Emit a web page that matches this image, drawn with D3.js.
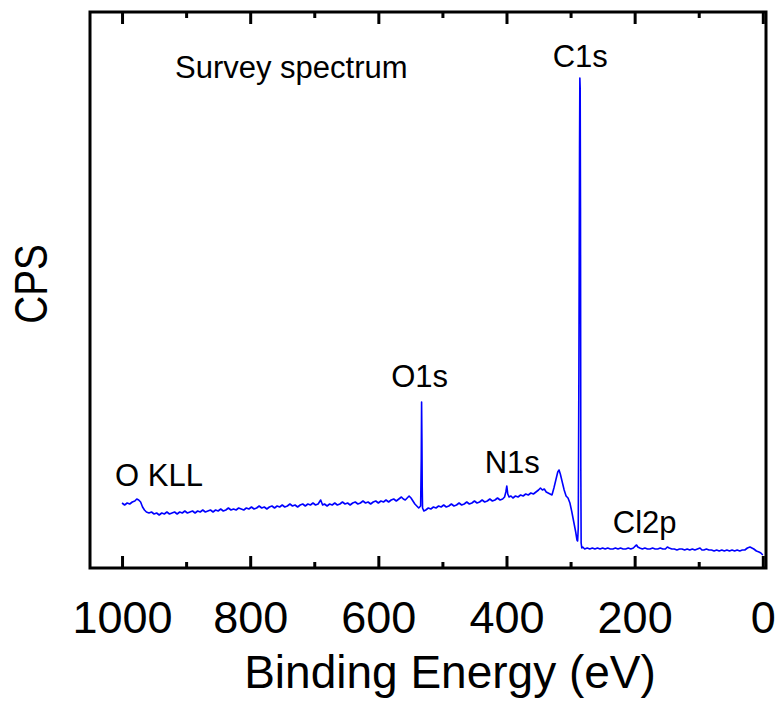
<!DOCTYPE html>
<html>
<head>
<meta charset="utf-8">
<script src="https://cdn.jsdelivr.net/npm/d3@7"></script>
<style>
	body { margin: 0; background: #fff; }
	text { font-family: "Liberation Sans", Arial, sans-serif; fill: #000; }
</style>
</head>
<body>
<div class="xps-survey"></div>
<script>

// binding energy (eV) and intensity (arbitrary CPS units)
const energy = [
	1000, 996, 992, 988, 984, 980, 977, 974, 971, 968, 965, 962, 958, 954, 950, 946, 942, 938, 934, 930,
	926, 922, 918, 914, 910, 906, 902, 898, 894, 890, 886, 882, 878, 874, 870, 866, 862, 858, 854, 850,
	846, 842, 838, 834, 830, 826, 822, 818, 814, 810, 806, 802, 798, 794, 790, 786, 782, 778, 774, 770,
	766, 762, 758, 754, 750, 746, 742, 738, 734, 730, 726, 722, 718, 714, 710, 706, 702, 698, 694, 690,
	687, 684, 680, 676, 672, 668, 664, 660, 656, 652, 648, 644, 640, 636, 632, 628, 624, 620, 616, 612,
	608, 604, 600, 596, 592, 588, 584, 580, 576, 572, 568, 564, 561, 558, 555, 552, 549, 546, 543, 540,
	537, 534, 533, 532.5, 532, 531.5, 531, 529, 526, 522, 518, 514, 510, 506, 502, 498, 494, 490, 486, 482,
	478, 474, 470, 466, 462, 458, 454, 450, 446, 442, 438, 434, 430, 426, 422, 418, 414, 410, 406, 403,
	401, 399.5, 398, 396, 393, 390, 386, 382, 378, 374, 370, 366, 362, 358, 354, 350, 347, 344, 341, 338,
	335, 332, 329, 326, 323, 320, 318, 316, 313, 310, 307, 304, 301, 298, 295, 292, 290, 289, 288, 287,
	286, 285.5, 285, 284.5, 284, 283.5, 282.5, 281, 278, 274, 270, 266, 262, 258, 254, 250, 246, 242, 238, 234,
	230, 226, 222, 218, 214, 210, 206, 202, 199, 197, 195, 192, 188, 184, 180, 176, 172, 168, 164, 160,
	156, 152, 149, 146, 142, 138, 134, 130, 126, 122, 118, 114, 110, 106, 102, 98, 95, 92, 88, 84,
	80, 76, 72, 68, 64, 60, 56, 52, 48, 44, 40, 36, 32, 28, 24, 20, 17, 14, 10, 6, 3, 0
];
const cps = [
	65, 63, 65, 64, 66, 67, 69, 68, 66, 61, 58, 56, 55, 56, 54, 55, 53, 55, 54, 56,
	54, 55, 56, 54, 56, 55, 57, 55, 56, 57, 55, 57, 56, 58, 56, 57, 58, 56, 58, 57,
	59, 57, 58, 60, 58, 59, 58, 60, 59, 58, 60, 59, 61, 59, 60, 62, 60, 61, 59, 61,
	62, 60, 62, 61, 63, 61, 62, 64, 62, 63, 61, 63, 64, 62, 64, 63, 65, 63, 64, 68,
	63, 64, 62, 64, 63, 65, 63, 64, 66, 64, 65, 63, 65, 66, 64, 65, 67, 65, 66, 64,
	66, 67, 65, 67, 66, 68, 66, 68, 69, 67, 69, 71, 69, 68, 70, 72, 70, 67, 64, 62,
	60, 62, 110, 166, 130, 80, 60, 57, 58, 60, 59, 61, 60, 62, 61, 63, 61, 62, 64, 62,
	63, 65, 63, 64, 66, 64, 65, 67, 65, 66, 68, 66, 67, 69, 67, 68, 70, 68, 69, 71,
	76, 82, 74, 71, 72, 70, 72, 71, 73, 72, 74, 73, 75, 74, 76, 78, 80, 78, 79, 76,
	75, 74, 73, 80, 88, 96, 98, 94, 86, 78, 72, 70, 65, 56, 46, 36, 28, 27, 40, 200,
	420, 490, 480, 360, 100, 25, 20, 21, 19, 20, 19, 20, 19, 20, 19, 20, 19, 20, 19, 19,
	20, 19, 20, 19, 19, 20, 19, 20, 22, 23, 21, 20, 19, 20, 19, 19, 20, 19, 19, 20,
	19, 19, 21, 20, 19, 19, 18, 19, 19, 18, 19, 18, 19, 18, 19, 20, 18, 18, 19, 18,
	18, 17, 18, 17, 18, 17, 18, 17, 18, 17, 18, 17, 18, 18, 20, 21, 20, 19, 17, 16, 15, 13
];

const majorTicks = [1000, 800, 600, 400, 200, 0];
const minorTicks = [900, 700, 500, 300, 100];

// peak annotations: label, energy, intensity at the label baseline
const peakLabels = ["O KLL", "O1s", "N1s", "C1s", "Cl2p"];
const peakEnergy = [1011, 580, 434, 328, 234];
const peakCps = [82, 181, 95, 501, 35];

const width = 778;
const height = 702;
const frame = { left: 90, right: 766, top: 12, bottom: 568 };

const data = energy.map((e, i) => ({ e: e, v: cps[i] }));

const x = d3.scaleLinear().domain([1050, -5]).range([frame.left, frame.right]);
const y = d3.scaleLinear().domain([0, 556]).range([frame.bottom, frame.top]);

const svg = d3.select(".xps-survey")
	.append("svg")
		.attr("width", width)
		.attr("height", height);

// spectrum
svg.append("path")
	.datum(data)
	.attr("fill", "none")
	.attr("stroke", "#0000ff")
	.attr("stroke-width", 1.6)
	.attr("stroke-linejoin", "round")
	.attr("d", d3.line().x((d) => x(d.e)).y((d) => y(d.v)));

// axes, ticks pointing inward
const bottomMajor = d3.axisBottom(x).tickValues(majorTicks).tickSizeInner(-12).tickSizeOuter(0).tickPadding(33).tickFormat(d3.format("d"));
const bottomMinor = d3.axisBottom(x).tickValues(minorTicks).tickSizeInner(-6).tickSizeOuter(0).tickFormat("");
const topMajor = d3.axisTop(x).tickValues(majorTicks).tickSizeInner(-12).tickSizeOuter(0).tickFormat("");
const topMinor = d3.axisTop(x).tickValues(minorTicks).tickSizeInner(-6).tickSizeOuter(0).tickFormat("");

[[bottomMajor, frame.bottom], [bottomMinor, frame.bottom], [topMajor, frame.top], [topMinor, frame.top]].forEach(([ax, ty]) => {
	const g = svg.append("g")
		.attr("transform", `translate(0, ${ty})`)
		.call(ax);
	g.select(".domain").remove();
	g.selectAll(".tick line").attr("stroke", "#000").attr("stroke-width", 3);
	g.selectAll(".tick text")
		.attr("font-family", "'Liberation Sans', Arial, sans-serif")
		.attr("font-size", 45)
		.attr("fill", "#000");
});

// frame
svg.append("rect")
	.attr("x", frame.left)
	.attr("y", frame.top)
	.attr("width", frame.right - frame.left)
	.attr("height", frame.bottom - frame.top)
	.attr("fill", "none")
	.attr("stroke", "#000")
	.attr("stroke-width", 3);

// axis titles
svg.append("text")
	.attr("x", 450)
	.attr("y", 688)
	.attr("text-anchor", "middle")
	.attr("font-size", 46)
	.text("Binding Energy (eV)");

svg.append("text")
	.attr("transform", "translate(47, 284) rotate(-90) scale(0.84, 1)")
	.attr("text-anchor", "middle")
	.attr("font-size", 46)
	.text("CPS");

svg.append("text")
	.attr("x", 175)
	.attr("y", 78)
	.attr("font-size", 31)
	.text("Survey spectrum");

// peak labels
svg.selectAll(".peak-label")
	.data(peakLabels).enter()
	.append("text")
		.attr("class", "peak-label")
		.attr("x", (d, i) => x(peakEnergy[i]))
		.attr("y", (d, i) => y(peakCps[i]))
		.attr("font-size", 31)
		.text((d) => d);

</script>
</body>
</html>
